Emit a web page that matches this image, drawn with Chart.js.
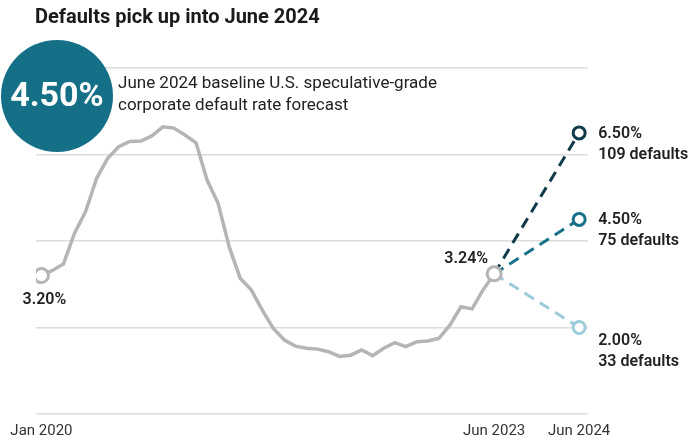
<!DOCTYPE html>
<html>
<head>
<meta charset="utf-8">
<script src="https://cdn.jsdelivr.net/npm/chart.js@4"></script>
<style>
  html, body { margin: 0; padding: 0; background: #fff; }
  #wrap { width: 700px; height: 442px; position: relative; }
</style>
</head>
<body>
<div id="wrap"><canvas id="chart"></canvas></div>
<script>
// ---------- Data ----------
// monthly default rate (%), Jan 2020 (index 0) .. Jun 2023 (index 41)
const histValues = [
  3.20, 3.32, 3.47, 4.18, 4.68, 5.45, 5.91, 6.18, 6.30, 6.31,
  6.43, 6.64, 6.61, 6.45, 6.27, 5.41, 4.87, 3.87, 3.14, 2.87,
  2.40, 1.98, 1.71, 1.57, 1.52, 1.50, 1.44, 1.33, 1.36, 1.48,
  1.35, 1.52, 1.65, 1.56, 1.67, 1.69, 1.75, 2.06, 2.48, 2.43,
  2.87, 3.24
];
const forecastX = 48.7;             // Jun 2024 position on the month axis (forecast part is compressed)
const tickPositions = [0, 41, forecastX];
const tickLabels = ['Jan 2020', 'Jun 2023', 'Jun 2024'];
const scenarioValues = [6.50, 4.50, 2.00];
const scenarioDefaults = [109, 75, 33];
const scenarioColors = ['#0f3b4b', '#17718a', '#9ccbd9'];
const yGrid = [0, 2, 4, 6, 8];
const baselineRate = '4.50%';

const FONT = 'Roboto, "Noto Sans", Arial, sans-serif';
const GRAY = '#b5b5b5';

const histPoints = histValues.map((v, i) => ({ x: i, y: v }));
const last = histValues.length - 1;

const scenarioSets = scenarioValues.map((v, i) => ({
  label: 'scenario' + i,
  data: [{ x: last, y: histValues[last] }, { x: forecastX, y: v }],
  borderColor: scenarioColors[i],
  borderWidth: 3,
  borderDash: [11, 7],
  pointRadius: [0, 6],
  pointBorderWidth: 3,
  pointBackgroundColor: '#fff',
  pointBorderColor: scenarioColors[i],
  order: 2,
}));

// ---------- Annotations plugin ----------
const annotate = {
  id: 'annotate',
  afterDatasetsDraw(chart) {
    const { ctx } = chart;
    ctx.save();

    // big baseline circle
    ctx.beginPath();
    ctx.arc(57, 96, 56, 0, Math.PI * 2);
    ctx.fillStyle = '#146f87';
    ctx.fill();
    ctx.fillStyle = '#fff';
    ctx.font = 'bold 34px ' + FONT;
    ctx.textAlign = 'center';
    ctx.textBaseline = 'middle';
    ctx.fillText(baselineRate, 57, 97);

    ctx.fillStyle = '#222';
    ctx.font = '17px ' + FONT;
    ctx.textAlign = 'left';
    ctx.fillText('June 2024 baseline U.S. speculative-grade', 118, 84);
    ctx.fillText('corporate default rate forecast', 118, 106);

    // history end labels
    const hist = chart.getDatasetMeta(3).data;
    ctx.font = '600 16px ' + FONT;
    ctx.fillStyle = '#222';
    ctx.textAlign = 'center';
    ctx.fillText(histValues[0].toFixed(2) + '%', hist[0].x + 3, hist[0].y + 24);
    ctx.textAlign = 'right';
    ctx.fillText(histValues[last].toFixed(2) + '%', hist[last].x - 6, hist[last].y - 15);

    // scenario labels
    ctx.textAlign = 'left';
    scenarioValues.forEach((v, i) => {
      const p = chart.getDatasetMeta(i).data[1];
      const y0 = i === 2 ? p.y + 13 : p.y + 1;
      ctx.fillText(v.toFixed(2) + '%', p.x + 19, y0);
      ctx.fillText(scenarioDefaults[i] + ' defaults', p.x + 19, y0 + 21);
    });
    ctx.restore();
  },
};

new Chart(document.getElementById('chart'), {
  type: 'line',
  data: {
    datasets: [
      ...scenarioSets,
      {
        label: 'history',
        data: histPoints,
        borderColor: GRAY,
        borderWidth: 3.5,
        tension: 0,
        pointRadius: histPoints.map((_, i) => (i === 0 || i === last ? 7 : 0)),
        pointBorderWidth: 3,
        pointBackgroundColor: '#fff',
        pointBorderColor: GRAY,
        order: 1,
      },
    ],
  },
  options: {
    responsive: true,
    maintainAspectRatio: false,
    animation: false,
    layout: { padding: { left: 35, right: 112, top: 0, bottom: -7 } },
    plugins: {
      legend: { display: false },
      tooltip: { enabled: false },
      title: {
        display: true,
        text: 'Defaults pick up into June 2024',
        align: 'start',
        color: '#1a1a1a',
        font: { family: FONT, size: 20, weight: 'bold' },
        padding: { top: 6, bottom: 38 },
      },
    },
    scales: {
      x: {
        type: 'linear',
        min: -0.5,
        max: 49.5,
        afterBuildTicks: (axis) => { axis.ticks = tickPositions.map((v) => ({ value: v })); },
        ticks: {
          autoSkip: false,
          maxRotation: 0,
          color: '#333',
          font: { family: FONT, size: 15, lineHeight: 1 },
          padding: 10,
          callback: (v) => tickLabels[tickPositions.indexOf(v)],
        },
        grid: { display: false, drawTicks: false },
        border: { display: false },
      },
      y: {
        min: 0,
        max: 8,
        afterBuildTicks: (axis) => { axis.ticks = yGrid.map((v) => ({ value: v })); },
        ticks: { display: false },
        grid: { color: '#dcdcdc', lineWidth: 1.5, drawTicks: false },
        border: { display: false },
      },
    },
  },
  plugins: [annotate],
});
</script>
</body>
</html>
